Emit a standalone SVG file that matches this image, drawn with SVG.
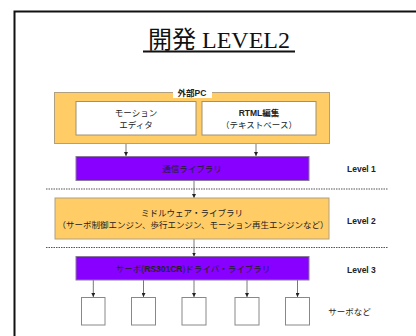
<svg xmlns="http://www.w3.org/2000/svg" width="416" height="336" viewBox="0 0 416 336">
<defs>
<style>
.jp{font-family:"Liberation Sans","Noto Sans CJK JP",sans-serif;font-size:8.5px;fill:#222;text-anchor:middle}
.b{font-weight:bold}
.or{fill:#FFCC66;stroke:#B0A080;stroke-width:1}
.pu{fill:#8800FF;stroke:#8A7A9A;stroke-width:1}
.wh{fill:#fff;stroke:#A09070;stroke-width:1}
.sv{fill:#fff;stroke:#888;stroke-width:1}
.ln{stroke:#555;stroke-width:0.8;fill:none;marker-end:url(#ah)}
.dot{stroke:#555;stroke-width:1.2;stroke-dasharray:1.5,1;fill:none}
.lv{font-family:"Liberation Sans",sans-serif;font-size:8.5px;font-weight:bold;fill:#222}
</style>
<marker id="ah" markerWidth="4" markerHeight="4" refX="4" refY="2" orient="auto" markerUnits="userSpaceOnUse">
<path d="M0,0 L4,2 L0,4 z" fill="#222"/>
</marker>
</defs>
<rect width="416" height="336" fill="#fff"/>
<rect x="14.5" y="11.5" width="420" height="340" fill="none" stroke="#111" stroke-width="2"/>
<g id="title">
<text x="219" y="48" font-family="Liberation Serif,'Noto Sans CJK JP',serif" font-size="24" text-anchor="middle" fill="#111">開発 LEVEL2</text>
<line x1="143" y1="51.5" x2="295" y2="51.5" stroke="#111" stroke-width="1.8"/>
</g>
<g id="connectors">
<line class="ln" x1="126" y1="135" x2="126" y2="156"/>
<line class="ln" x1="256" y1="135" x2="256" y2="156"/>
<line class="ln" x1="194" y1="181" x2="194" y2="198"/>
<line class="ln" x1="194" y1="239" x2="194" y2="256.5"/>
<line class="ln" x1="93.3" y1="280" x2="93.3" y2="297"/>
<line class="ln" x1="143.5" y1="280" x2="143.5" y2="297"/>
<line class="ln" x1="194" y1="280" x2="194" y2="297"/>
<line class="ln" x1="247" y1="280" x2="247" y2="297"/>
<line class="ln" x1="297.5" y1="280" x2="297.5" y2="297"/>
</g>
<g id="dividers">
<line class="dot" x1="46" y1="189" x2="388" y2="189"/>
<line class="dot" x1="46" y1="247.5" x2="388" y2="247.5"/>
</g>
<g id="pc">
<rect class="or" x="54.5" y="92.5" width="275" height="51"/>
<rect x="173" y="86" width="39" height="12" fill="#fff"/>
<text class="jp b" x="192" y="95.5">外部PC</text>
</g>
<g id="motion-editor">
<rect class="wh" x="76" y="101.5" width="120" height="33.5"/>
<text class="jp" x="136" y="116">モーション</text>
<text class="jp" x="136" y="128">エディタ</text>
</g>
<g id="rtml">
<rect class="wh" x="202" y="101.5" width="114" height="33.5"/>
<text class="jp b" x="259" y="116">RTML編集</text>
<text class="jp" x="259" y="128">（テキストベース）</text>
</g>
<g id="comm">
<rect class="pu" x="76" y="156.5" width="233" height="24"/>
<text class="jp" x="192" y="171.5">通信ライブラリ</text>
</g>
<g id="middleware">
<rect class="or" x="55" y="198" width="274" height="41"/>
<text class="jp" x="192" y="216">ミドルウェア・ライブラリ</text>
<text class="jp" x="193" y="227.5">（サーボ制御エンジン、歩行エンジン、モーション再生エンジンなど）</text>
</g>
<g id="driver">
<rect class="pu" x="76" y="256.5" width="233" height="23.5"/>
<text class="jp" x="193" y="271.5">サーボ(<tspan class="b">RS301CR</tspan>)ドライバ・ライブラリ</text>
</g>
<g id="servos">
<rect class="sv" x="81.5" y="297.5" width="23.5" height="27.5"/>
<rect class="sv" x="131.5" y="297.5" width="24" height="27.5"/>
<rect class="sv" x="182" y="297.5" width="24" height="27.5"/>
<rect class="sv" x="235" y="297.5" width="24" height="27.5"/>
<rect class="sv" x="285.5" y="297.5" width="24" height="27.5"/>
<text class="jp" x="349.5" y="315">サーボなど</text>
</g>
<g id="levels">
<text class="lv" x="347" y="172">Level 1</text>
<text class="lv" x="347" y="223.5">Level 2</text>
<text class="lv" x="347" y="273">Level 3</text>
</g>
</svg>
